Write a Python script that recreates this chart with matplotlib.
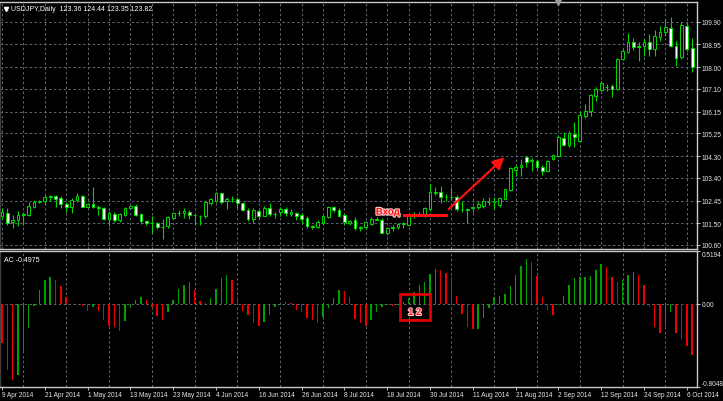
import matplotlib
matplotlib.use("Agg")
import matplotlib.pyplot as plt
import matplotlib.patheffects as pe
import numpy as np

# daily USDJPY candles, 9 Apr 2014 .. 7 Oct 2014
opens = [101.80, 101.95, 101.55, 101.62, 101.83, 101.86, 102.20, 102.41, 102.45, 102.58,
         102.62, 102.55, 102.31, 102.19, 102.47, 102.64, 102.20, 102.30, 102.17, 102.15,
         101.68, 101.90, 101.65, 101.83, 102.16, 102.23, 101.90, 101.58, 101.53, 101.52,
         101.36, 101.38, 101.72, 101.92, 101.93, 101.99, 101.84, 101.81, 101.80, 102.35,
         102.45, 102.75, 102.44, 102.50, 102.50, 102.34, 102.06, 101.68, 102.03, 101.82,
         102.12, 101.89, 101.96, 102.09, 101.91, 101.95, 101.84, 101.72, 101.40, 101.33,
         101.52, 101.76, 102.20, 102.06, 101.84, 101.52, 101.64, 101.31, 101.33, 101.47,
         101.66, 101.64, 101.11, 101.29, 101.33, 101.49, 101.44, 101.80, 101.86, 101.85,
         102.09, 102.77, 102.79, 102.60, 102.59, 102.59, 102.09, 102.08, 102.16, 102.20,
         102.21, 102.39, 102.38, 102.28, 102.50, 102.87, 103.74, 103.85, 104.26, 104.10,
         104.08, 103.84, 103.66, 104.16, 104.30, 105.05, 104.75, 105.24, 104.93, 105.98,
         106.16, 106.82, 107.04, 107.17, 107.20, 107.08, 108.33, 108.65, 109.03, 108.86,
         108.90, 109.03, 108.75, 109.26, 109.48, 109.62, 108.89, 108.43, 109.72, 108.79]
highs = [102.13, 102.13, 101.86, 102.00, 101.98, 102.40, 102.48, 102.48, 102.68, 102.70,
         102.68, 102.62, 102.40, 102.55, 102.78, 102.68, 102.36, 103.03, 102.27, 102.19,
         102.00, 101.96, 101.93, 102.20, 102.28, 102.30, 101.93, 101.62, 101.79, 101.55,
         101.68, 101.82, 101.99, 102.07, 102.14, 102.06, 101.86, 101.86, 102.41, 102.54,
         102.82, 102.78, 102.58, 102.64, 102.61, 102.37, 102.13, 102.13, 102.09, 102.23,
         102.33, 101.97, 102.17, 102.17, 102.09, 101.99, 101.95, 101.79, 101.44, 101.65,
         101.86, 102.23, 102.23, 102.13, 101.89, 101.64, 101.78, 101.40, 101.61, 101.78,
         101.78, 101.71, 101.36, 101.43, 101.53, 101.57, 101.89, 101.99, 101.96, 102.20,
         103.15, 103.01, 103.04, 102.73, 103.03, 102.69, 102.45, 102.13, 102.23, 102.37,
         102.54, 102.61, 102.58, 102.61, 102.95, 103.84, 103.91, 104.19, 104.30, 104.22,
         104.12, 103.91, 104.12, 104.40, 105.17, 105.30, 105.34, 105.70, 106.12, 106.46,
         106.90, 107.18, 107.43, 107.32, 107.32, 108.40, 108.75, 109.44, 109.21, 109.03,
         109.17, 109.37, 109.54, 109.72, 110.00, 110.07, 109.10, 109.90, 109.90, 109.23]
lows = [101.70, 101.44, 101.31, 101.38, 101.42, 101.79, 102.13, 102.34, 102.27, 102.43,
        102.20, 102.13, 101.99, 101.94, 102.41, 102.17, 102.13, 102.13, 101.86, 101.62,
        101.41, 101.54, 101.54, 101.79, 102.12, 101.79, 101.49, 101.42, 101.10, 101.27,
        100.83, 101.31, 101.68, 101.79, 101.72, 101.68, 101.45, 101.45, 101.72, 102.28,
        102.41, 102.31, 102.08, 102.37, 102.13, 102.00, 101.58, 101.52, 101.72, 101.79,
        101.82, 101.72, 101.79, 101.82, 101.79, 101.62, 101.52, 101.31, 101.27, 101.30,
        101.45, 101.72, 101.99, 101.75, 101.45, 101.45, 101.22, 101.17, 101.26, 101.43,
        101.58, 101.08, 101.01, 101.19, 101.26, 101.29, 101.41, 101.74, 101.80, 101.78,
        102.03, 102.70, 102.33, 102.42, 102.47, 102.03, 101.99, 101.50, 101.99, 102.09,
        102.16, 102.27, 102.09, 102.20, 102.46, 102.84, 103.49, 103.49, 103.84, 103.70,
        103.77, 103.52, 103.63, 104.12, 104.26, 104.70, 104.68, 104.68, 104.87, 105.90,
        105.98, 106.60, 106.99, 106.99, 106.77, 107.04, 108.29, 108.61, 108.71, 108.26,
        108.47, 108.47, 108.47, 109.10, 109.31, 108.82, 108.06, 108.34, 108.68, 107.82]
closes = [101.98, 101.51, 101.64, 101.86, 101.90, 102.23, 102.37, 102.44, 102.58, 102.64,
          102.50, 102.31, 102.17, 102.49, 102.62, 102.20, 102.31, 102.17, 102.14, 101.68,
          101.93, 101.65, 101.90, 102.13, 102.23, 101.86, 101.58, 101.52, 101.51, 101.35,
          101.34, 101.75, 101.95, 101.93, 102.00, 101.83, 101.83, 101.80, 102.37, 102.50,
          102.75, 102.37, 102.50, 102.51, 102.34, 102.04, 101.68, 102.06, 101.79, 102.16,
          101.88, 101.90, 102.09, 101.93, 101.96, 101.82, 101.68, 101.38, 101.34, 101.56,
          101.79, 102.17, 102.06, 101.82, 101.54, 101.58, 101.29, 101.33, 101.54, 101.67,
          101.67, 101.11, 101.29, 101.36, 101.47, 101.50, 101.81, 101.88, 101.90, 102.13,
          102.79, 102.82, 102.59, 102.59, 102.61, 102.09, 102.09, 102.06, 102.18, 102.30,
          102.44, 102.40, 102.37, 102.55, 102.91, 103.80, 103.85, 103.94, 104.05, 104.12,
          103.84, 103.70, 104.08, 104.36, 105.10, 104.77, 105.28, 105.10, 106.02, 106.18,
          106.85, 107.08, 107.36, 107.19, 107.10, 108.36, 108.68, 109.03, 108.85, 108.85,
          109.03, 108.75, 109.30, 109.48, 109.68, 108.89, 108.40, 109.76, 108.75, 108.01]

# Accelerator Oscillator, one value per candle
ac_values = [-0.376, -0.640, -0.740, -0.687, -0.478, -0.233, -0.020, 0.141, 0.233, 0.271,
             0.233, 0.179, 0.075, 0.005, 0.002, -0.020, -0.060, -0.030, -0.060, -0.154,
             -0.210, -0.217, -0.256, -0.160, -0.040, 0.043, 0.075, 0.043, -0.027, -0.116,
             -0.148, -0.075, 0.043, 0.148, 0.189, 0.220, 0.138, 0.037, 0.017, 0.062,
             0.154, 0.252, 0.281, 0.233, 0.070, -0.060, -0.106, -0.186, -0.211, -0.170,
             -0.100, -0.027, 0.005, 0.020, 0.010, -0.059, -0.075, -0.129, -0.148, -0.186,
             -0.122, -0.037, 0.059, 0.141, 0.132, 0.068, -0.138, -0.186, -0.211, -0.154,
             -0.075, -0.030, -0.010, -0.020, -0.005, 0.020, 0.060, 0.116, 0.189, 0.220,
             0.297, 0.348, 0.338, 0.306, 0.268, 0.078, -0.090, -0.217, -0.243, -0.240,
             -0.129, -0.033, 0.068, 0.078, 0.100, 0.179, 0.284, 0.370, 0.443, 0.417,
             0.275, 0.075, -0.059, -0.106, -0.010, 0.084, 0.186, 0.259, 0.262, 0.270,
             0.272, 0.338, 0.395, 0.360, 0.262, 0.220, 0.236, 0.281, 0.313, 0.290,
             0.189, -0.027, -0.224, -0.275, -0.210, -0.075, -0.281, -0.335, -0.408, -0.4975]

date_labels = ["9 Apr 2014", "21 Apr 2014", "1 May 2014", "13 May 2014", "23 May 2014",
               "4 Jun 2014", "16 Jun 2014", "26 Jun 2014", "8 Jul 2014", "18 Jul 2014",
               "30 Jul 2014", "11 Aug 2014", "21 Aug 2014", "2 Sep 2014", "12 Sep 2014",
               "24 Sep 2014", "6 Oct 2014"]
price_ticks = [100.60, 101.50, 102.45, 103.40, 104.30, 105.25, 106.15, 107.10, 108.00, 108.95, 109.90]
ac_ticks = [-0.8048, 0.0, 0.5194]

W, H = 723, 402
BG = "black"
GRID = "#5f6b78"
FRAME = "#c8c8c8"
CANDLE = "#00d800"
FS = 4.7


def frac(x0, y0, x1, y1):
    # pixel box (top-left origin) -> figure fraction rect
    return [x0 / W, 1 - y1 / H, (x1 - x0) / W, (y1 - y0) / H]


def style(ax):
    ax.set_facecolor(BG)
    for s in ax.spines.values():
        s.set_color(FRAME)
        s.set_linewidth(1.0)
    ax.spines["left"].set_color("#404040")
    ax.tick_params(colors=FRAME, labelcolor="#e8e8e8", length=2, width=0.7,
                   labelsize=FS, pad=1.5)
    ax.yaxis.tick_right()


def main():
    plt.rcParams["font.family"] = ["Liberation Sans", "DejaVu Sans"]
    n = len(closes)
    idx = np.arange(n)
    o = np.array(opens)
    c = np.array(closes)
    fig = plt.figure(figsize=(W / 100, H / 100), dpi=100, facecolor=BG)

    xlim = (-2 / 5.35, 695 / 5.35)
    dash = (0, (2.5, 2.5))

    # price window
    ax = fig.add_axes(frac(0, 3, 697, 250))
    style(ax)
    ax.set_xlim(*xlim)
    ax.set_ylim(100.60 - 4 / 24.03, 100.60 + 243 / 24.03)
    ax.set_yticks(price_ticks)
    ax.set_yticklabels(["%.2f" % p for p in price_ticks])
    ax.set_xticks(np.arange(0, n, 4))
    ax.tick_params(axis="x", length=0, labelbottom=False)
    ax.grid(True, color=GRID, linestyle=dash, linewidth=0.7)
    ax.set_axisbelow(True)

    ax.vlines(idx, lows, highs, color=CANDLE, linewidth=0.8, zorder=2)
    body_lo = np.minimum(o, c)
    body_h = np.maximum(np.abs(c - o), 0.012)
    face = ["black" if cc >= oo else "white" for oo, cc in zip(o, c)]
    ax.bar(idx, body_h, bottom=body_lo, width=0.52, color=face,
           edgecolor=CANDLE, linewidth=0.7, zorder=3)

    ax.text(0.016, 0.975, "USDJPY,Daily  123.36 124.44 123.35 123.82",
            transform=ax.transAxes, color="white", fontsize=FS + 0.3, va="center")
    ax.plot([0.008], [0.973], marker="v", color="white", markersize=3,
            transform=ax.transAxes, clip_on=False)
    ax.plot([558 / 697], [1.0], marker="v", color="#9a9a9a", markersize=4.5,
            transform=ax.transAxes, clip_on=False, zorder=5)

    # entry mark and arrow
    red = "#ff1010"
    ax.plot([75.1, 83.0], [101.86, 101.86], color=red, linewidth=2.2, zorder=6)
    ax.annotate("", xy=(94.3, 104.33), xytext=(83.1, 102.01),
                arrowprops=dict(arrowstyle="-|>,head_length=0.7,head_width=0.35",
                                color=red, linewidth=1.6), zorder=6)
    ax.text(72.1, 101.99, "Вход", color=red, fontsize=7, fontweight="bold",
            ha="center", va="center", zorder=7,
            path_effects=[pe.withStroke(linewidth=1.6, foreground="#ffd0d0")])

    # AC window
    ax2 = fig.add_axes(frac(0, 252, 697, 388))
    style(ax2)
    ax2.set_xlim(*xlim)
    ax2.set_ylim(-0.8048, 0.5194)
    ac = np.array(ac_values)
    rising = np.r_[False, ac[1:] > ac[:-1]]
    colors = np.where(rising, "#00a000", "#ee0000")
    ax2.bar(idx, ac, width=0.28, color=colors, zorder=3)
    ax2.set_yticks(ac_ticks)
    ax2.set_yticklabels(["-0.8048", "0.00", "0.5194"])
    for lab, va in zip(ax2.get_yticklabels(), ["bottom", "center", "top"]):
        lab.set_va(va)
    ax2.set_xticks(np.arange(0, n, 8))
    ax2.set_xticklabels(date_labels, ha="left")
    ax2.set_xticks(np.arange(0, n, 4), minor=True)
    ax2.tick_params(axis="x", which="major", length=2, pad=1.2)
    ax2.tick_params(axis="x", which="minor", length=0)
    ax2.grid(True, which="minor", axis="x", color=GRID, linestyle=dash, linewidth=0.7)
    ax2.axhline(0, color=GRID, linestyle=dash, linewidth=0.7, zorder=1)
    ax2.set_axisbelow(True)
    ax2.text(0.006, 0.965, "AC -0.4975", transform=ax2.transAxes, color="white",
             fontsize=FS + 0.3, va="top")

    # "1 2" box
    ax2.add_patch(plt.Rectangle((74.4, -0.155), 5.6, 0.257, fill=False,
                                edgecolor="#e00000", linewidth=2.0, zorder=6))
    for xx, t in [(76.4, "1"), (77.9, "2")]:
        ax2.text(xx, -0.075, t, color="#ff2020", fontsize=7, fontweight="bold",
                 ha="center", va="center", zorder=7,
                 path_effects=[pe.withStroke(linewidth=1.4, foreground="#ffd0d0")])

    fig.savefig("out.png", dpi=100, facecolor=BG)


if __name__ == "__main__":
    main()
